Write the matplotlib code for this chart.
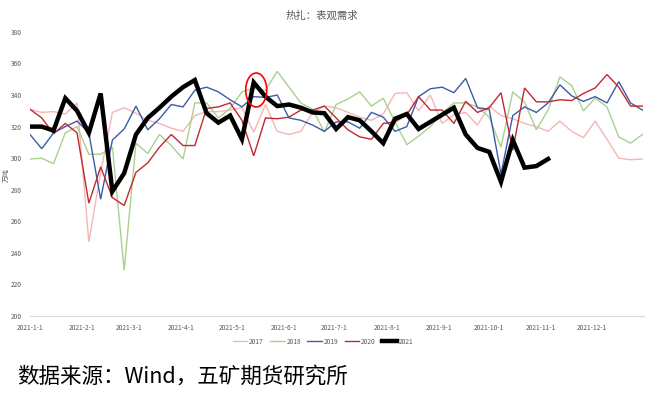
import matplotlib
matplotlib.use("Agg")
import matplotlib.pyplot as plt
import matplotlib.dates as mdates
from matplotlib.patches import Ellipse
import pandas as pd

plt.rcParams['font.family'] = ['Noto Sans CJK SC', 'DejaVu Sans']

# weekly apparent demand, 万吨
y2017 = [331, 329, 329.5, 328, 335, 247, 291, 329, 332, 328.5, 324, 322, 319, 317, 327, 329.5,
         329.5, 330.5, 332, 316.5, 334, 317, 315, 317, 329, 333, 332, 329, 326, 324, 328, 341,
         341.5, 330, 340, 322, 327.5, 329, 321, 333, 327, 325, 322, 320, 317, 323.5, 317, 313,
         323.5, 312, 300, 299, 299.5]
y2018 = [299.5, 300, 296.5, 316, 320, 302.5, 302.5, 307, 229, 309.5, 303, 315, 308, 299.5, 335, 335,
         325.5, 331.5, 342, 344.5, 343, 355, 345, 335, 331, 316.5, 334, 337.5, 342, 333, 338, 323,
         308.5, 314, 320, 328.5, 335, 335, 332.5, 326, 307, 342, 335.5, 318, 330.5, 351.5, 346, 330,
         338, 332.5, 313.5, 309.5, 315]
y2019 = [315, 306, 316, 320, 323.5, 316, 274, 311.5, 318.5, 333, 318, 325, 334, 332.5, 343, 345,
         342, 337, 332.5, 339, 338.5, 340, 325.5, 324, 321, 317, 323, 323, 319, 329, 326, 317,
         320, 339, 344, 345, 341.5, 350.5, 332, 331, 290, 327, 332.5, 329, 335, 346.5, 339.5, 336,
         339, 335, 348.5, 335, 330.5]
y2020 = [331, 325.5, 315.5, 322, 316, 271.5, 294.5, 275, 270, 291, 297, 307, 315, 308, 308, 331.5,
         332.5, 335, 324, 301.5, 325.5, 325, 326, 330.5, 330.5, 333, 325.5, 318, 313.5, 312, 322, 323,
         327.5, 339, 330.5, 330.5, 322, 336, 329, 332, 341.5, 305, 344.5, 335.7, 335.7, 337, 336.5, 341,
         344.5, 353, 345, 333, 333]
y2021 = [320, 320, 317.5, 338, 330, 316, 341, 279, 290.5, 315, 325.5, 332, 339, 345, 349.5, 328.5,
         322.5, 327, 312, 348, 339, 333, 334, 332, 329, 328.5, 318.5, 326, 324, 317, 309.5, 325,
         328, 318.5, 323, 327.5, 332, 315, 306.5, 304, 285, 311.5, 294, 295, 299.5]

dates = pd.date_range('2021-01-01', periods=53, freq='7D')
series = [('2017', y2017, '#F4B6B6', 1.0), ('2018', y2018, '#A9D18E', 1.0),
          ('2019', y2019, '#3A5DA8', 1.0), ('2020', y2020, '#BE2A2F', 1.0),
          ('2021', y2021, '#000000', 3.2)]

fig = plt.figure(figsize=(6.56, 3.99), dpi=100)
ax = fig.add_axes([0.0457, 0.208, 0.936, 0.712])

for name, vals, col, lw in series:
    ax.plot(dates[:len(vals)], vals, color=col, lw=lw, label=name, solid_joinstyle='miter')

# highlight circle
cx = mdates.date2num(pd.Timestamp('2021-05-15 12:00'))
ax.add_patch(Ellipse((cx, 343.2), 12.5, 21.5, fill=False, edgecolor='#FF0000', lw=1.2, zorder=5))

ax.set_xlim(pd.Timestamp('2021-01-01'), pd.Timestamp('2022-01-01'))
ax.set_ylim(200, 380)
ax.set_yticks(range(200, 381, 20))
ticks = pd.date_range('2021-01-01', '2021-12-01', freq='MS')
ax.set_xticks(ticks)
ax.set_xticklabels([f'{d.year}-{d.month}-1' for d in ticks])
ax.tick_params(axis='both', length=0, labelsize=4.8, labelcolor='#595959')
ax.tick_params(axis='x', pad=6)
ax.tick_params(axis='y', pad=6)
for s in ['top', 'right', 'left']:
    ax.spines[s].set_visible(False)
ax.spines['bottom'].set_color('#D9D9D9')
ax.spines['bottom'].set_linewidth(0.8)

fig.text(7 / 656, 1 - 175 / 399, '万吨', rotation=90, ha='center', va='center',
         fontsize=5, color='#595959')

fig.text(0.491, 0.96, '热扎：表观需求', ha='center', va='center', fontsize=7.5, color='#595959')

ax.legend(loc='center', bbox_to_anchor=(0.477, -0.09), ncol=5, frameon=False, fontsize=4.8,
          labelcolor='#595959', handlelength=2.2, handletextpad=0.3, columnspacing=0.9)

fig.text(0.026, 0.055, '数据来源：Wind，五矿期货研究所', ha='left', va='center', fontsize=15.5, color='#000000')

fig.savefig('out.png', dpi=100)
